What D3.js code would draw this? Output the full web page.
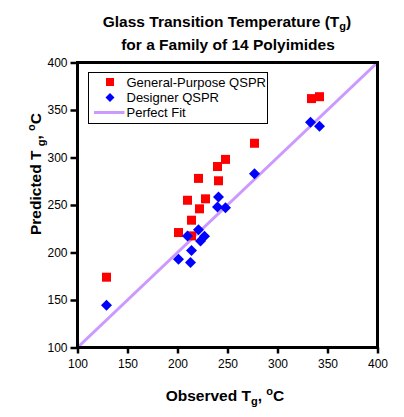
<!DOCTYPE html>
<html><head><meta charset="utf-8">
<script src="https://cdn.jsdelivr.net/npm/d3@7"></script>
<style>
html,body{margin:0;padding:0;background:#fff;}
svg{display:block;font-family:Arial,"Liberation Sans",sans-serif;}
</style></head>
<body>
<script>
const generalObserved = [129, 201, 214, 222, 210, 228, 221, 241, 240, 248, 277, 334, 214, 342];
const generalPredicted = [174, 221, 234, 246, 255, 256.5, 278, 275.5, 290.5, 298, 315, 362, 217.5, 364];
const designerObserved = [129, 201, 213, 214, 210, 221, 223, 227, 240, 241, 248, 277, 333, 342];
const designerPredicted = [144.5, 193, 189.5, 202, 217.5, 224, 212, 217, 248, 258.5, 247, 283, 337, 333];
const fitLine = [100, 400];
const xTicks = [100, 150, 200, 250, 300, 350, 400];
const yTicks = [100, 150, 200, 250, 300, 350, 400];
const seriesNames = ["General-Purpose QSPR", "Designer QSPR", "Perfect Fit"];

const W = 404, H = 417;
const svg = d3.select("body").append("svg").attr("width", W).attr("height", H);

const x = d3.scaleLinear().domain([100, 400]).range([77.5, 377.5]);
const y = d3.scaleLinear().domain([100, 400]).range([347.5, 62.5]);

// title
const title = svg.append("text").attr("text-anchor", "middle")
  .attr("font-size", 15.5).attr("font-weight", "bold").attr("fill", "#000");
const t1 = title.append("tspan").attr("x", 227).attr("y", 27).text("Glass Transition Temperature (T");
t1.append("tspan").attr("font-size", 11).attr("dy", 3).text("g");
t1.append("tspan").attr("dy", -3).text(")");
title.append("tspan").attr("x", 228).attr("y", 49.5).text("for a Family of 14 Polyimides");

// clip
svg.append("clipPath").attr("id", "clip").append("rect")
  .attr("x", x(100)).attr("y", y(400)).attr("width", x(400) - x(100)).attr("height", y(100) - y(400));

// perfect fit line
svg.append("line").attr("clip-path", "url(#clip)")
  .attr("x1", x(fitLine[0])).attr("y1", y(fitLine[0]))
  .attr("x2", x(fitLine[1])).attr("y2", y(fitLine[1]))
  .attr("stroke", "#CC99FF").attr("stroke-width", 3);

// red squares
const sq = 9;
svg.append("g").selectAll("rect").data(generalObserved).join("rect")
  .attr("x", (d) => x(d) - sq / 2)
  .attr("y", (d, i) => y(generalPredicted[i]) - sq / 2)
  .attr("width", sq).attr("height", sq).attr("fill", "#FF0000");

// blue diamonds
const dr = 5.5;
const diamond = (r) => `M0,${-r}L${r},0L0,${r}L${-r},0Z`;
svg.append("g").selectAll("path").data(designerObserved).join("path")
  .attr("transform", (d, i) => `translate(${x(d)},${y(designerPredicted[i])})`)
  .attr("d", diamond(dr)).attr("fill", "#0000FF");

// axes
const xAxis = svg.append("g").attr("transform", `translate(0,${y(100)})`)
  .call(d3.axisBottom(x).tickValues(xTicks).tickSize(6).tickPadding(6).tickFormat(d3.format("d")));
const yAxis = svg.append("g").attr("transform", `translate(${x(100)},0)`)
  .call(d3.axisLeft(y).tickValues(yTicks).tickSize(7).tickPadding(3).tickFormat(d3.format("d")));
[xAxis, yAxis].forEach(a => {
  a.select(".domain").remove();
  a.selectAll(".tick line").attr("stroke", "#000").attr("stroke-width", 2.5);
  a.selectAll(".tick text").attr("font-size", 12).attr("fill", "#000")
    .attr("font-family", "Arial, 'Liberation Sans', sans-serif");
});

// plot frame
svg.append("rect").attr("x", x(100)).attr("y", y(400))
  .attr("width", x(400) - x(100)).attr("height", y(100) - y(400))
  .attr("fill", "none").attr("stroke", "#000").attr("stroke-width", 3);

// x label
const xl = svg.append("text").attr("text-anchor", "middle").attr("x", 225).attr("y", 401)
  .attr("font-size", 15.5).attr("font-weight", "bold");
xl.append("tspan").text("Observed T");
xl.append("tspan").attr("font-size", 11).attr("dy", 4).text("g");
xl.append("tspan").attr("dy", -4).text(", ");
xl.append("tspan").attr("font-size", 11).attr("dy", -6).text("o");
xl.append("tspan").attr("dy", 6).text("C");

// y label
const yl = svg.append("text").attr("text-anchor", "middle")
  .attr("transform", "translate(41,174) rotate(-90)")
  .attr("font-size", 15.5).attr("font-weight", "bold");
yl.append("tspan").text("Predicted T ");
yl.append("tspan").attr("font-size", 11).attr("dy", 4).text("g");
yl.append("tspan").attr("dy", -4).text(", ");
yl.append("tspan").attr("font-size", 11).attr("dy", -6).text("o");
yl.append("tspan").attr("dy", 6).text("C");

// legend
const lg = svg.append("g");
lg.append("rect").attr("x", 88.5).attr("y", 72.5).attr("width", 179).attr("height", 51)
  .attr("fill", "#fff").attr("stroke", "#000").attr("stroke-width", 1);
const rows = [82, 97.5, 112.5];
lg.append("rect").attr("x", 110 - 4).attr("y", rows[0] - 4).attr("width", 8).attr("height", 8).attr("fill", "#FF0000");
lg.append("path").attr("transform", `translate(110,${rows[1]})`).attr("d", diamond(4.5)).attr("fill", "#0000FF");
lg.append("line").attr("x1", 94).attr("x2", 124.5).attr("y1", rows[2]).attr("y2", rows[2])
  .attr("stroke", "#CC99FF").attr("stroke-width", 3);
lg.selectAll("text.lt").data(seriesNames).join("text").attr("class", "lt")
  .attr("x", 126.5).attr("y", (d, i) => rows[i] + 4.5)
  .attr("font-size", 13).attr("fill", "#000").text(d => d);
</script>
</body></html>
